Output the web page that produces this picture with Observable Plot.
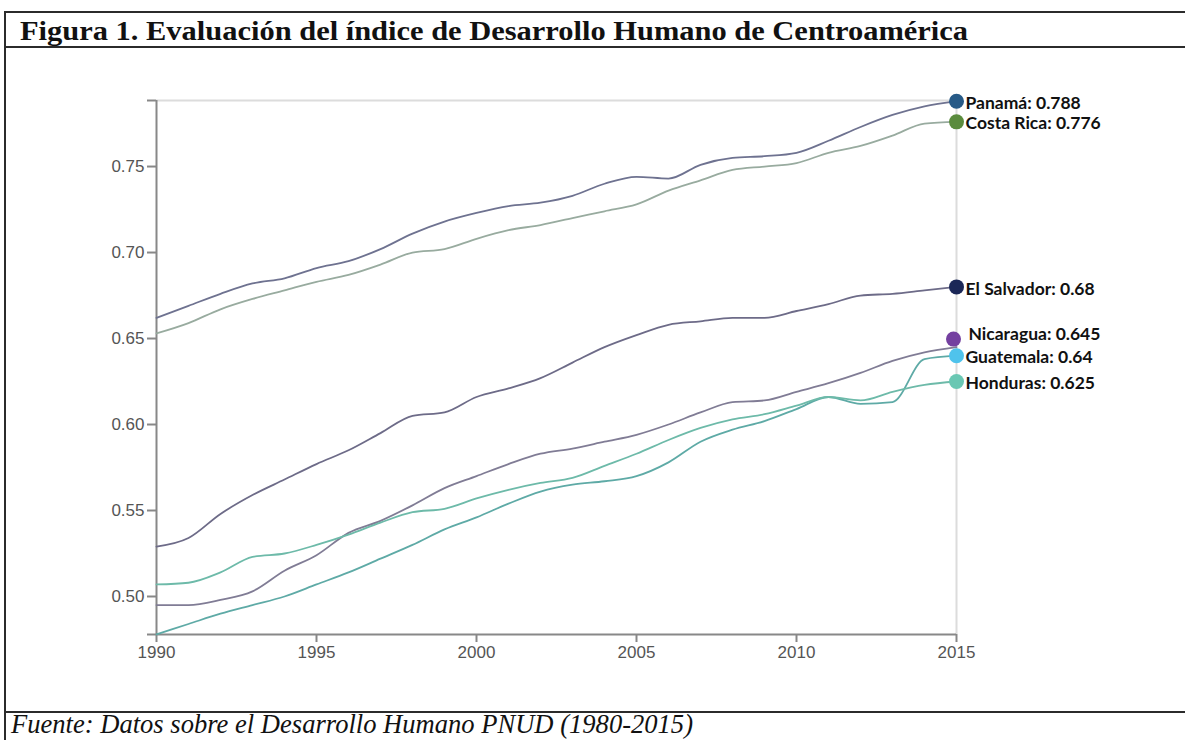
<!DOCTYPE html>
<html><head><meta charset="utf-8">
<script src="https://cdn.jsdelivr.net/npm/d3@7"></script>
<script src="https://cdn.jsdelivr.net/npm/@observablehq/plot@0.6"></script>
<style>
html,body{margin:0;padding:0;background:#fff}
body{width:1185px;height:740px;overflow:hidden;position:relative;font-family:"Liberation Sans",Arial,sans-serif}
#chart{position:absolute;left:0;top:0}
.frame{position:absolute;background:#2b2b2b}
#texts{position:absolute;left:0;top:0;pointer-events:none}
</style></head><body>
<div class="frame" style="left:4px;top:11px;width:1181px;height:2px"></div>
<div class="frame" style="left:4px;top:11px;width:2px;height:729px"></div>
<div class="frame" style="left:4px;top:46px;width:1181px;height:2px"></div>
<div class="frame" style="left:4px;top:711px;width:1181px;height:2px"></div>
<div id="chart"></div>
<svg id="texts" width="1185" height="740">
  <text x="20" y="39.5" font-family="Liberation Serif, serif" font-weight="bold" font-size="28" textLength="948" lengthAdjust="spacingAndGlyphs" fill="#111">Figura 1. Evaluación del índice de Desarrollo Humano de Centroamérica</text>
  <text x="11" y="733" font-family="Liberation Serif, serif" font-style="italic" font-size="27" textLength="682" lengthAdjust="spacingAndGlyphs" fill="#111">Fuente: Datos sobre el Desarrollo Humano PNUD (1980-2015)</text>
</svg>
<script>
const years = [1990,1991,1992,1993,1994,1995,1996,1997,1998,1999,2000,2001,2002,2003,2004,2005,2006,2007,2008,2009,2010,2011,2012,2013,2014,2015];
const countries = ["Panamá","Costa Rica","El Salvador","Nicaragua","Guatemala","Honduras"];
const panama     = [0.662,0.669,0.676,0.682,0.685,0.691,0.695,0.702,0.711,0.718,0.723,0.727,0.729,0.733,0.740,0.744,0.743,0.751,0.755,0.756,0.758,0.765,0.773,0.780,0.785,0.788];
const costaRica  = [0.653,0.659,0.667,0.673,0.678,0.683,0.687,0.693,0.700,0.702,0.708,0.713,0.716,0.720,0.724,0.728,0.736,0.742,0.748,0.750,0.752,0.758,0.762,0.768,0.775,0.776];
const elSalvador = [0.529,0.534,0.548,0.559,0.568,0.577,0.585,0.595,0.605,0.607,0.616,0.621,0.627,0.636,0.645,0.652,0.658,0.660,0.662,0.662,0.666,0.670,0.675,0.676,0.678,0.680];
const nicaragua  = [0.495,0.495,0.498,0.503,0.515,0.524,0.537,0.544,0.553,0.563,0.570,0.577,0.583,0.586,0.590,0.594,0.600,0.607,0.613,0.614,0.619,0.624,0.630,0.637,0.642,0.645];
const guatemala  = [0.478,0.484,0.490,0.495,0.500,0.507,0.514,0.522,0.530,0.539,0.546,0.554,0.561,0.565,0.567,0.570,0.578,0.590,0.597,0.602,0.609,0.616,0.612,0.613,0.638,0.640];
const honduras   = [0.507,0.508,0.514,0.523,0.525,0.530,0.536,0.543,0.549,0.551,0.557,0.562,0.566,0.569,0.576,0.583,0.591,0.598,0.603,0.606,0.611,0.616,0.614,0.619,0.623,0.625];
const seriesList = [panama,costaRica,elSalvador,nicaragua,guatemala,honduras];
const lineColors = ["#6e7290","#98ab9f","#6d6b88","#807c95","#5eaaa6","#6dbaa9"];
const dotColors  = ["#275a87","#5a8b3d","#1b2757","#7440a0","#4fc3ec","#6ac7b3"];
const xTicks = [1990,1995,2000,2005,2010,2015];
const yTicks = [0.50,0.55,0.60,0.65,0.70,0.75];
const yMin = 0.4779, yMax = 0.7884;

const lineMarks = countries.map((c,i) => Plot.lineY(
  years.map((yr,j) => ({year: yr, value: seriesList[i][j]})),
  {x:"year", y:"value", stroke: lineColors[i], strokeWidth: 1.8, curve: "monotone-x"}
));
const ends = countries.map((c,i) => ({country: c, year: years[years.length-1], value: seriesList[i][seriesList[i].length-1], i}));
const shifted = ends.filter(d => d.country === "Nicaragua");
const normal = ends.filter(d => d.country !== "Nicaragua");

const chart = Plot.plot({
  width: 1185, height: 700,
  marginLeft: 156, marginRight: 229, marginTop: 100, marginBottom: 66,
  style: {fontFamily: "Liberation Sans, Arial, sans-serif", fontSize: "17px", color: "#555", background: "transparent", overflow: "visible"},
  x: {domain: [1990, 2015]},
  y: {domain: [yMin, yMax]},
  marks: [
    Plot.ruleY([yMax], {stroke: "#dcdcdc", strokeWidth: 2}),
    Plot.ruleX([2015], {stroke: "#dcdcdc", strokeWidth: 2}),
    Plot.axisX({ticks: xTicks, tickFormat: d => String(d), tickSize: 8, tickPadding: 3, stroke: "#888", strokeWidth: 2, fill: "#555", fontSize: 17, label: null}),
    Plot.axisY({ticks: yTicks, tickFormat: d => d.toFixed(2), tickSize: 9, tickPadding: 3, stroke: "#888", strokeWidth: 2, fill: "#555", fontSize: 17, label: null}),
    Plot.axisY({ticks: [yMin, yMax], tickFormat: () => "", tickSize: 9, stroke: "#888", strokeWidth: 2, label: null}),
    Plot.ruleX([1990], {stroke: "#888", strokeWidth: 2}),
    Plot.ruleY([yMin], {stroke: "#888", strokeWidth: 2}),
    ...lineMarks,
    Plot.dot(normal, {x: "year", y: "value", r: 7.5, fill: d => dotColors[d.i], stroke: "none"}),
    Plot.dot(shifted, {x: "year", y: "value", r: 7.5, fill: d => dotColors[d.i], stroke: "none", dx: -3, dy: -8}),
    Plot.text(normal, {x: "year", y: "value", text: d => `${d.country}: ${d.value}`, dx: 9, dy: 2, textAnchor: "start", fontWeight: "bold", fontSize: 17.5, fontFamily: "Lato, sans-serif", fill: "#111"}),
    Plot.text(shifted, {x: "year", y: "value", text: d => `${d.country}: ${d.value}`, dx: 12, dy: -13, textAnchor: "start", fontWeight: "bold", fontSize: 17.5, fontFamily: "Lato, sans-serif", fill: "#111"})
  ]
});
document.getElementById("chart").appendChild(chart);
</script>
</body></html>
